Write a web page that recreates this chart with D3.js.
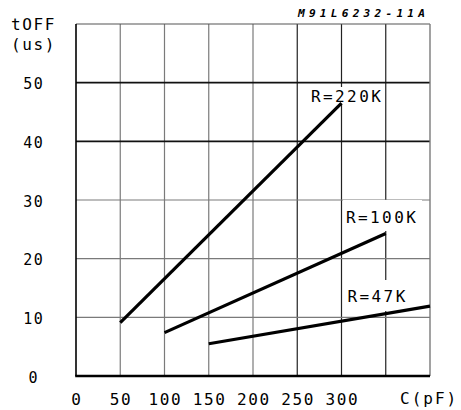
<!DOCTYPE html>
<html><head><meta charset="utf-8">
<script src="https://cdn.jsdelivr.net/npm/d3@7"></script>
<style>
html,body{margin:0;padding:0;background:#fff;}
svg{display:block;}
text{font-family:"DejaVu Sans Mono",monospace;fill:#000;}
</style></head>
<body>
<svg id="chart" width="461" height="410"></svg>
<script>
// ---- data ----
const xTickValues = [0, 50, 100, 150, 200, 250, 300];
const xGridValues = [50, 100, 150, 200, 250, 300, 350];
const yTickValues = [0, 10, 20, 30, 40, 50];
const yGridValues = [10, 20, 30, 40, 50];
const seriesNames = ["R=220K", "R=100K", "R=47K"];
const seriesC = [[50, 300], [100, 350], [150, 400]];
const seriesT = [[9.1, 46.5], [7.4, 24.3], [5.5, 11.9]];
const xTitle = "C(pF)";
const yTitle1 = "tOFF";
const yTitle2 = "(us)";
const docCode = "M91L6232-11A";

const svg = d3.select("#chart");
const x = d3.scaleLinear().domain([0, 400]).range([76, 430]);
const y = d3.scaleLinear().domain([0, 60]).range([376, 24]);

const darkX = new Set([250, 300, 350]);
const darkY = new Set([40, 50]);

// grid
svg.append("g").selectAll("line").data(xGridValues).join("line")
  .attr("x1", d => x(d)).attr("x2", d => x(d))
  .attr("y1", y(60)).attr("y2", y(0))
  .attr("stroke", d => darkX.has(d) ? "#222" : "#7a7a7a")
  .attr("stroke-width", 1.2);
svg.append("g").selectAll("line").data(yGridValues).join("line")
  .attr("x1", x(0)).attr("x2", x(400))
  .attr("y1", d => y(d)).attr("y2", d => y(d))
  .attr("stroke", d => darkY.has(d) ? "#111" : "#7a7a7a")
  .attr("stroke-width", d => darkY.has(d) ? 1.6 : 1.2);

// frame
svg.append("line").attr("x1", x(0)).attr("x2", x(400)).attr("y1", y(60)).attr("y2", y(60))
  .attr("stroke", "#555").attr("stroke-width", 1.2);
svg.append("line").attr("x1", x(400)).attr("x2", x(400)).attr("y1", y(60)).attr("y2", y(0))
  .attr("stroke", "#7a7a7a").attr("stroke-width", 1.4);
svg.append("line").attr("x1", x(0)).attr("x2", x(0)).attr("y1", y(60)).attr("y2", y(0))
  .attr("stroke", "#000").attr("stroke-width", 1.6);
svg.append("line").attr("x1", x(0) - 0.8).attr("x2", x(400)).attr("y1", y(0)).attr("y2", y(0))
  .attr("stroke", "#000").attr("stroke-width", 2.4);

// label masks (white boxes behind curve labels)
const masks = [[308, 87, 76, 17], [343, 200, 79, 31], [345, 280, 67, 31]];
svg.append("g").selectAll("rect").data(masks).join("rect")
  .attr("x", d => d[0]).attr("y", d => d[1]).attr("width", d => d[2]).attr("height", d => d[3])
  .attr("fill", "#fff");

// series lines
const line = d3.line().x(d => x(d[0])).y(d => y(d[1]));
svg.append("g").selectAll("path").data(seriesNames).join("path")
  .attr("d", (n, i) => line(seriesC[i].map((c, j) => [c, seriesT[i][j]])))
  .attr("fill", "none").attr("stroke", "#000").attr("stroke-width", 3.2);

// curve labels
const labelPos = [[311, 101.7], [346, 223.3], [347.5, 302]];
svg.append("g").selectAll("text").data(seriesNames).join("text")
  .attr("x", (d, i) => labelPos[i][0]).attr("y", (d, i) => labelPos[i][1])
  .attr("font-size", 16).attr("letter-spacing", 2.4)
  .text(d => d);

// x tick labels
svg.append("g").selectAll("text").data(xTickValues).join("text")
  .attr("x", d => x(d)).attr("y", 405)
  .attr("text-anchor", "middle").attr("font-size", 16).attr("letter-spacing", 1.6)
  .attr("dx", 0.8)
  .text(d => d);

// y tick labels
svg.append("g").selectAll("text").data(yTickValues).join("text")
  .attr("x", 33).attr("y", d => y(d) + 6.5)
  .attr("text-anchor", "middle").attr("font-size", 15).attr("letter-spacing", 1.6)
  .attr("dx", 0.8)
  .text(d => d);

// axis titles
svg.append("text").attr("x", 400).attr("y", 404).attr("font-size", 16).attr("letter-spacing", 2.0).text(xTitle);
svg.append("text").attr("x", 11).attr("y", 29.5).attr("font-size", 16).attr("letter-spacing", 1.6).text(yTitle1);
svg.append("text").attr("x", 11).attr("y", 50).attr("font-size", 16).attr("letter-spacing", 1.6).text(yTitle2);

// document code
svg.append("text").attr("x", 298).attr("y", 16.9).attr("font-size", 11.2)
  .attr("font-style", "italic").attr("font-weight", "bold").attr("letter-spacing", 4.2).text(docCode);
</script>
</body></html>
